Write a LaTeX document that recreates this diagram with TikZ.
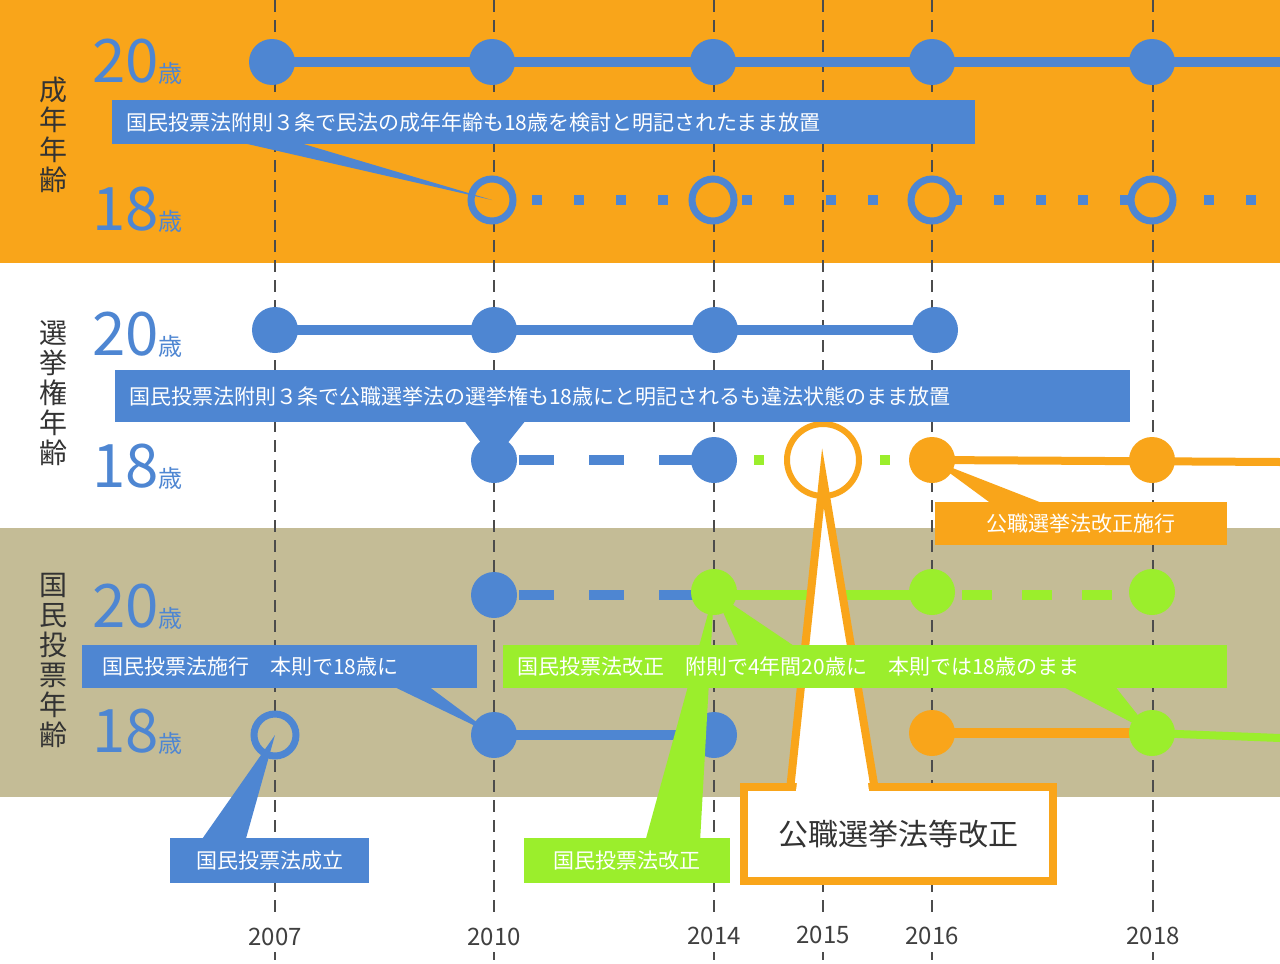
\documentclass[tikz,border=0pt]{standalone}
\usepackage{fontspec}
\setmainfont{Noto Sans CJK JP}
\begin{document}
\begin{tikzpicture}[x=1pt,y=-1pt,
  every node/.style={inner sep=0pt},
  dot/.style={circle,minimum size=46pt,fill=#1},
  ring/.style={circle,minimum size=42pt,draw=#1,line width=7pt},
  vline/.style={draw=black!70,line width=2.5pt,dash pattern=on 12pt off 8pt},
  box/.style={fill=#1,text=white,font=\fontsize{21}{21}\selectfont,minimum height=44pt,anchor=north west,align=left},
  year/.style={font=\fontsize{24}{24}\selectfont,text=black!75},
  big/.style={text=myblue,font=\fontsize{60}{60}\selectfont,anchor=base west},
  vlab/.style={font=\fontsize{28}{30}\selectfont,align=center,text=black!80}]
\definecolor{myblue}{HTML}{4E86D2}
\definecolor{myor}{HTML}{F9A51A}
\definecolor{mygr}{HTML}{9BEE2C}
\definecolor{tan}{HTML}{C4BC96}
\useasboundingbox (0,0) rectangle (1280,964);
\fill[myor] (0,0) rectangle (1280,263);
\fill[white] (0,263) rectangle (1280,528);
\fill[tan] (0,528) rectangle (1280,797);
\fill[white] (0,797) rectangle (1280,964);
% vertical lines and years
\foreach \x/\y/\t in {275/937/2007,494/937/2010,714/936/2014,823/935/2015,932/936/2016,1153/936/2018}{
  \draw[vline] (\x,0) -- (\x,915);
  \draw[vline] (\x,952) -- (\x,960);
  \node[year] (y\t) at (\x,\y) {\t};}
% row labels
\node[vlab] (l1) at (53,135) {成\\年\\年\\齢};
\node[vlab] (l2) at (53,393) {選\\挙\\権\\年\\齢};
\node[vlab] (l3) at (53,660) {国\\民\\投\\票\\年\\齢};
\foreach \y/\a in {82/20,230/18,355/20,487/18,627/20,752/18}{
  \node[big] (n\y) at (92,\y) {\a\fontsize{24}{24}\selectfont 歳};}
% row 1
\draw[myblue,line width=10pt] (272,62) -- (1280,62);
\foreach \x [count=\i] in {272,492,713,932,1152} \node[dot=myblue] (a\i) at (\x,62) {};
% row 2
\draw[myblue,line width=10pt,dash pattern=on 10pt off 32pt,dash phase=-40pt] (492,200) -- (1280,200);
\foreach \x [count=\i] in {492,713,932,1152} \node[ring=myblue,fill=myor] (b\i) at (\x,200) {};
% row 3
\draw[myblue,line width=10pt] (275,330) -- (935,330);
\foreach \x [count=\i] in {275,494,715,935} \node[dot=myblue] (c\i) at (\x,330) {};
% row 4
\draw[myblue,line width=10pt,dash pattern=on 35pt off 35pt,dash phase=-25pt] (494,460) -- (714,460);
\draw[mygr,line width=10pt,dash pattern=on 10pt off 32pt,dash phase=-40pt] (714,460) -- (932,460);
\draw[myor,line width=8pt] (932,460) -- (1280,462);
\node[dot=myblue] (d1) at (494,460) {};
\node[dot=myblue] (d2) at (714,460) {};
\node[circle,minimum size=72pt,draw=myor,line width=6pt,fill=white] (d3) at (823,460) {};
\node[dot=myor] (d4) at (932,460) {};
\node[dot=myor] (d5) at (1152,460) {};
% row 5
\draw[myblue,line width=10pt,dash pattern=on 35pt off 35pt,dash phase=-25pt] (494,595) -- (714,595);
\draw[mygr,line width=10pt] (714,595) -- (932,595);
\draw[mygr,line width=10pt,dash pattern=on 30pt off 30pt,dash phase=-30pt] (932,595) -- (1152,595);
\node[dot=myblue] (e1) at (494,595) {};
\node[dot=mygr] (e2) at (714,592) {};
\node[dot=mygr] (e3) at (932,592) {};
\node[dot=mygr] (e4) at (1152,592) {};
% row 6
\draw[myblue,line width=10pt] (494,735) -- (714,735);
\draw[myor,line width=10pt] (932,733) -- (1152,733);
\draw[mygr,line width=8pt] (1152,733) -- (1280,738);
\node[ring=myblue,fill=tan] (f1) at (275,735) {};
\node[dot=myblue] (f2) at (494,735) {};
\node[dot=myblue] (f3) at (714,735) {};
\node[dot=myor] (f4) at (932,733) {};
\node[dot=mygr] (f5) at (1152,733) {};
% pointers
\fill[myblue] (230,140) -- (b1.center) -- (290,140) -- cycle;
\fill[myblue] (460,415) -- (d1.center) -- (530,415) -- cycle;
\fill[myor] (1000,510) -- (d4.center) -- (1060,510) -- cycle;
\fill[myblue] (380,680) -- (f2.center) -- (420,680) -- cycle;
\fill[mygr] (740,650) -- (e2.center) -- (800,650) -- cycle;
\fill[mygr] (1050,680) -- (f5.center) -- (1110,680) -- cycle;
\fill[myblue] (200,842) -- (f1.center) -- (245,842) -- cycle;
\fill[mygr] (645,842) -- (e2.center) -- (700,842) -- cycle;
\filldraw[myor,line width=8pt,fill=white,line join=miter] (790,790) -- (823,478) -- (875,790) -- cycle;
% boxes
\node[box=myblue,text width=835pt,inner xsep=14pt] (k1) at (112,100) {国民投票法附則３条で民法の成年年齢も18歳を検討と明記されたまま放置};
\node[box=myblue,text width=987pt,inner xsep=14pt,minimum height=52pt] (k2) at (115,370) {国民投票法附則３条で公職選挙法の選挙権も18歳にと明記されるも違法状態のまま放置};
\node[box=myor,text width=292pt,minimum height=43pt,align=center] (k3) at (935,502) {公職選挙法改正施行};
\node[box=myblue,text width=375pt,inner xsep=10pt,minimum height=43pt] (k4) at (82,645) {\hspace*{10pt}国民投票法施行　本則で18歳に};
\node[box=mygr,text width=696pt,inner xsep=14pt,minimum height=43pt] (k5) at (503,645) {国民投票法改正　附則で4年間20歳に　本則では18歳のまま};
\node[box=myblue,text width=199pt,minimum height=45pt,align=center] (k6) at (170,838) {国民投票法成立};
\node[box=mygr,text width=206pt,minimum height=45pt,align=center] (k7) at (524,838) {国民投票法改正};
\node[draw=myor,line width=8pt,fill=white,minimum width=309pt,minimum height=94pt,font=\fontsize{30}{30}\selectfont,text=black!80] (k8) at (898,834) {公職選挙法等改正};
\fill[white] (796,791) -- (802,740) -- (862,740) -- (869,791) -- cycle;
\end{tikzpicture}
\end{document}
